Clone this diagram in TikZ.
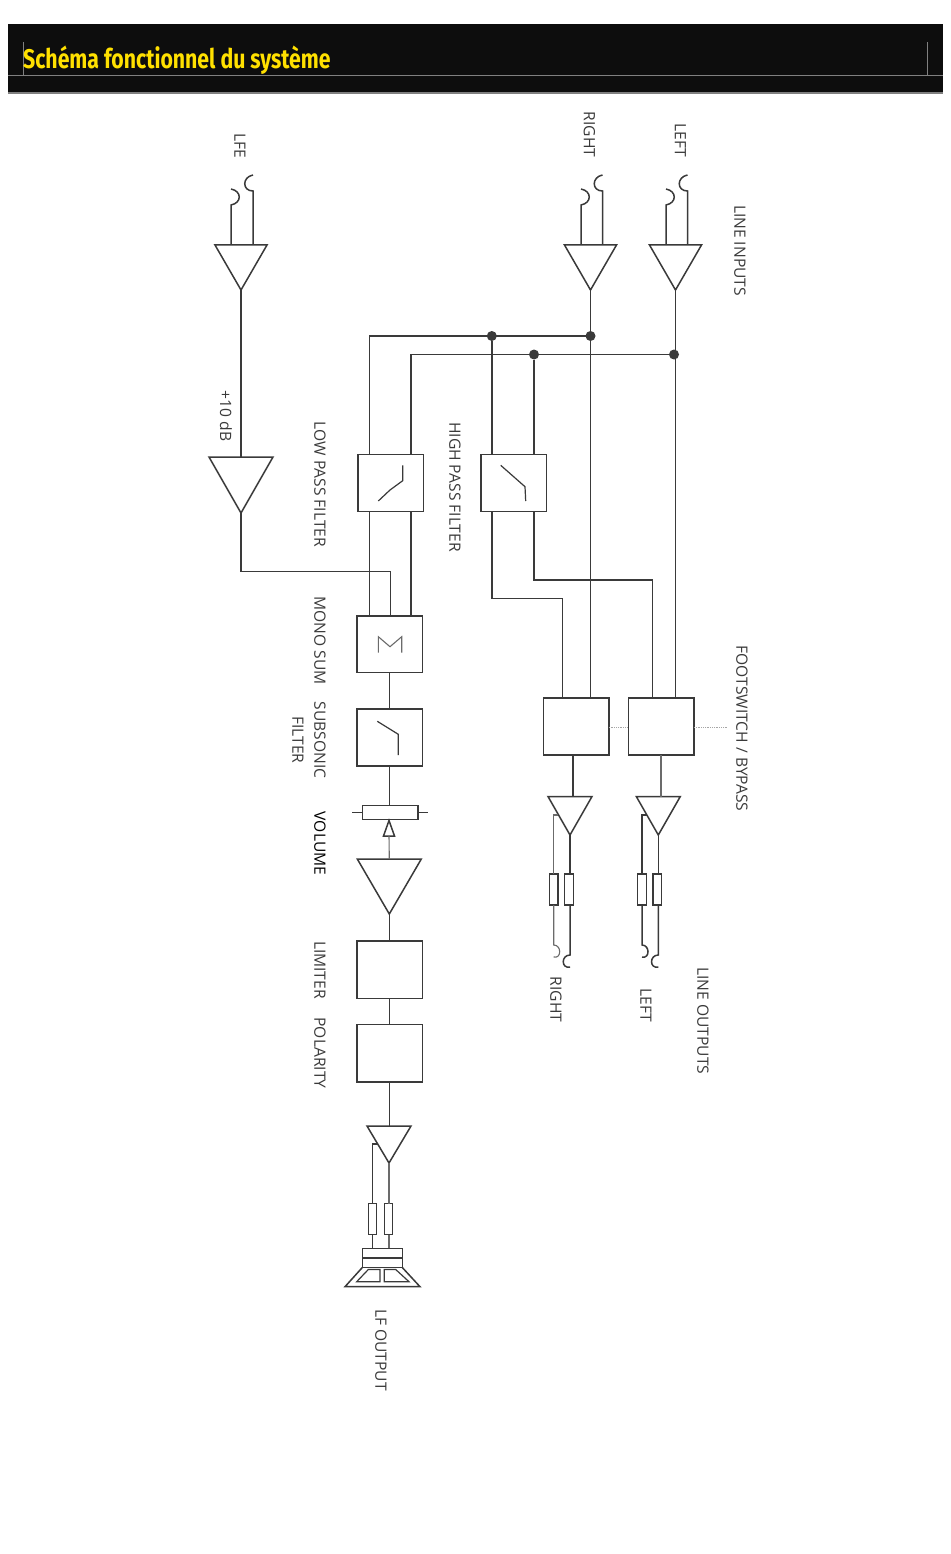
\documentclass[tikz,border=0pt]{standalone}
\usepackage{fontspec}
\setmainfont{Open Sans}
\newfontfamily\titlefont{Fira Sans}
\usetikzlibrary{positioning, shapes.geometric, calc}
\definecolor{ink}{HTML}{3A3A3A}
\definecolor{band}{HTML}{0D0D0D}
\definecolor{titleyellow}{HTML}{FFE000}

\begin{document}
\begin{tikzpicture}[
    x=1pt, y=-1pt,
    wire/.style={draw=ink, line width=1.5pt},
    thinwire/.style={draw=ink!75, line width=1.1pt},
    curve/.style={draw=ink, line width=1.2pt},
    block/.style={rectangle, draw=ink, line width=1.5pt, fill=white, inner sep=0pt, outer sep=0pt, minimum width=65.5pt, minimum height=57pt},
    res/.style={rectangle, draw=ink, line width=1.3pt, fill=white, inner sep=0pt, outer sep=0pt, minimum width=8.5pt, minimum height=31pt},
    amp/.style={isosceles triangle, isosceles triangle stretches, shape border rotate=-90, draw=ink, line width=1.5pt, fill=white, inner sep=0pt, outer sep=0pt, anchor=apex},
    dot/.style={circle, fill=ink, inner sep=0pt, outer sep=0pt, minimum size=10pt},
    lbl/.style={rotate=-90, text=ink, font=\fontsize{15.6}{22}\selectfont, inner sep=0pt, align=center}
]
    \useasboundingbox (0,0) rectangle (950,1554);

    % --- Title band ---
    \fill[band] (8,24) rectangle (943,93);
    \draw[gray, line width=1.5pt] (8,93) -- (943,93);
    \draw[gray, line width=0.5pt] (8,75) -- (943,75);
    \draw[gray, line width=0.5pt] (23,42) -- (23,75);
    \draw[gray, line width=0.5pt] (927,42) -- (927,75);
    \node[anchor=west, inner sep=0pt, text=titleyellow, xscale=0.787, font=\titlefont\bfseries\fontsize{27}{30}\selectfont] (title) at (23,60) {Schéma fonctionnel du système};

    % --- Input amplifiers ---
    \node[amp, minimum width=52pt, minimum height=45pt] (amp_lfe) at (241,290) {};
    \node[amp, minimum width=52pt, minimum height=45pt] (amp_r) at (590.5,290) {};
    \node[amp, minimum width=52pt, minimum height=45pt] (amp_l) at (675.5,290) {};
    \node[amp, minimum width=64pt, minimum height=56pt] (amp_boost) at (241,513) {};

    % --- Input jacks ---
    \coordinate (lfe_a) at (231,205);
    \coordinate (lfe_b) at (253,191);
    \coordinate (r_a) at (581,205);
    \coordinate (r_b) at (602.5,191);
    \coordinate (l_a) at (666,205);
    \coordinate (l_b) at (687.5,191);
    \draw[wire] (amp_lfe.lower side -| lfe_a) -- (lfe_a) .. controls +(11,-2) and +(11,2) .. +(0,-16);
    \draw[wire] (amp_lfe.lower side -| lfe_b) -- (lfe_b) .. controls +(-11,0) and +(-11,2) .. +(0,-16);
    \draw[wire] (amp_r.lower side -| r_a) -- (r_a) .. controls +(11,-2) and +(11,2) .. +(0,-16);
    \draw[wire] (amp_r.lower side -| r_b) -- (r_b) .. controls +(-11,0) and +(-11,2) .. +(0,-16);
    \draw[wire] (amp_l.lower side -| l_a) -- (l_a) .. controls +(11,-2) and +(11,2) .. +(0,-16);
    \draw[wire] (amp_l.lower side -| l_b) -- (l_b) .. controls +(-11,0) and +(-11,2) .. +(0,-16);

    % --- Filters and processing blocks ---
    \node[block] (lpf) at (390.5,483) {};
    \node[block] (hpf) at (513.5,483) {};
    \node[block, minimum height=56.5pt] (mono) at (389.5,644) {};
    \node[block] (subs) at (389.5,737.5) {};
    \node[block, minimum height=57.5pt] (lim) at (389.5,969.5) {};
    \node[block, minimum height=57.5pt] (pol) at (389.5,1053) {};
    \node[block, minimum height=57pt] (foot_r) at (576,726.5) {};
    \node[block, minimum height=57pt] (foot_l) at (661.2,726.5) {};

    % --- Bus lines ---
    \node[dot] (d1) at (491.8,336) {};
    \node[dot] (d2) at (590.5,336) {};
    \node[dot] (d3) at (534,354.5) {};
    \node[dot] (d4) at (674,354.5) {};
    \coordinate (bus_a) at (369.3,336);
    \coordinate (bus_b) at (411,354.5);
    \draw[wire] (amp_lfe.apex) -- (amp_boost.lower side);
    \draw[wire] (amp_r.apex) -- (foot_r.north -| amp_r.apex);
    \draw[wire] (amp_l.apex) -- (foot_l.north -| amp_l.apex);
    \draw[wire] (d2) -- (bus_a) -- (bus_a |- lpf.north);
    \draw[wire] (d4) -- (bus_b) -- (bus_b |- lpf.north);
    \draw[wire] (bus_a |- lpf.south) -- (bus_a |- mono.north);
    \draw[wire] (bus_b |- lpf.south) -- (bus_b |- mono.north);

    % --- Boost to mono sum ---
    \coordinate (boost_in) at (390.7,571.7);
    \draw[wire] (amp_boost.apex) |- (boost_in) -- (boost_in |- mono.north);

    % --- High pass to footswitch ---
    \coordinate (hp_a) at (562.7,598.7);
    \coordinate (hp_b) at (652.5,580);
    \draw[wire] (d1) -- (d1 |- hpf.north);
    \draw[wire] (d3) -- (d3 |- hpf.north);
    \draw[wire] (d1 |- hpf.south) |- (hp_a) -- (hp_a |- foot_r.north);
    \draw[wire] (d3 |- hpf.south) |- (hp_b) -- (hp_b |- foot_l.north);

    % --- Curves in the blocks ---
    \draw[curve] (378.3,501) -- (390,490) -- (402.7,480.7) -- (402.7,465.3);
    \draw[curve] (500.7,465.3) -- (525,486.7) -- (525.7,501);
    \draw[curve] (377.3,721.3) -- (398.3,734.3) -- (398.3,755);
    \draw[thinwire] (378.3,652.7) -- (378.3,636.7) -- (390,646.7) -- (401.7,636.7) -- (401.7,652.7);

    % --- Footswitch link ---
    \coordinate (sw_end) at (727,727.5);
    \draw[gray!70, line width=0.8pt, densely dotted] (foot_r.east |- sw_end) -- (foot_l.west |- sw_end);
    \draw[gray!70, line width=0.8pt, densely dotted] (foot_l.east |- sw_end) -- (sw_end);

    % --- Line output right ---
    \node[amp, minimum width=44pt, minimum height=38.5pt] (out_r) at (570,835) {};
    \node[res] (res_r1) at (553.7,889.5) {};
    \node[res] (res_r2) at (569,889.5) {};
    \coordinate (jr_a) at (553,945);
    \coordinate (jr_b) at (570,955);
    \coordinate (fr) at (573,796.5);
    \draw[wire] (foot_r.south -| fr) -- (fr);
    \draw[thinwire] (558,815) -| (res_r1.north);
    \draw[thinwire] (res_r1.south) -- (res_r1.south |- jr_a) .. controls +(8,0) and +(8,2) .. +(0,12);
    \draw[wire] (out_r.apex) -- (out_r.apex |- res_r2.north);
    \draw[wire] (out_r.apex |- res_r2.south) -- (jr_b) .. controls +(-9,0) and +(-9,2) .. +(0,12);

    % --- Line output left ---
    \node[amp, minimum width=44pt, minimum height=38.5pt] (out_l) at (658.3,835) {};
    \node[res] (res_l1) at (642,889.5) {};
    \node[res] (res_l2) at (657.2,889.5) {};
    \coordinate (fl) at (661,796.5);
    \draw[thinwire] (foot_l.south -| fl) -- (fl);
    \draw[wire] (646.7,815) -| (res_l1.north);
    \draw[wire] (res_l1.south) -- (res_l1.south |- jr_a) .. controls +(8,0) and +(8,2) .. +(0,12);
    \draw[wire] (out_l.apex) -- (out_l.apex |- res_l2.north);
    \draw[wire] (out_l.apex |- res_l2.south) -- (out_l.apex |- jr_b) .. controls +(-9,0) and +(-9,2) .. +(0,12);

    % --- Volume ---
    \node[rectangle, draw=ink, line width=1.5pt, fill=white, inner sep=0pt, outer sep=0pt, minimum width=55.5pt, minimum height=14pt] (pot) at (390,812.3) {};
    \coordinate (pot_a) at (352,812.3);
    \coordinate (pot_b) at (427.7,812.3);
    \draw[wire] (pot_a) -- (pot.west);
    \draw[wire] (pot.east) -- (pot_b);
    \draw[wire] (mono.south) -- (subs.north);
    \draw[wire] (subs.south) -- (subs.south |- pot.north);
    \node[amp, shape border rotate=90, minimum width=11pt, minimum height=15.5pt] (wiper) at (389,820.5) {};
    \node[amp, minimum width=64pt, minimum height=55pt] (amp_vol) at (389.3,914) {};
    \draw[thinwire] (wiper.lower side) -- (amp_vol.lower side);
    \draw[wire] (amp_vol.apex) -- (amp_vol.apex |- lim.north);
    \draw[wire] (lim.south) -- (pol.north);

    % --- LF output ---
    \node[amp, minimum width=44pt, minimum height=37pt] (amp_lf) at (389,1163) {};
    \node[res] (res_a) at (372.5,1219.3) {};
    \node[res] (res_b) at (388.5,1219.3) {};
    \node[rectangle, draw=ink, line width=1.5pt, fill=white, inner sep=0pt, outer sep=0pt, minimum width=40pt, minimum height=19pt] (magnet) at (382.3,1257.8) {};
    \draw[wire] (pol.south) -- (pol.south |- amp_lf.lower side);
    \draw[wire] (377.7,1144) -| (res_a.north);
    \draw[thinwire] (amp_lf.apex) -- (amp_lf.apex |- res_b.north);
    \draw[wire] (res_a.south) -- (res_a.south |- magnet.north);
    \draw[thinwire] (amp_lf.apex |- res_b.south) -- (amp_lf.apex |- magnet.north);
    \draw[draw=ink, line width=2pt] (magnet.west) -- (magnet.east);

    % --- Speaker cone ---
    \draw[wire, line join=miter] (362.3,1267.5) -- (345,1286.7) -- (420,1286.7) -- (402.3,1267.5);
    \draw[curve] (368.3,1269.5) -- (380,1269.5) -- (380,1281.7) -- (356.7,1281.7) -- cycle;
    \draw[curve] (384.3,1269.5) -- (395.7,1269.5) -- (409,1281.7) -- (384.3,1281.7) -- cycle;

    % --- Labels ---
    \node[lbl] (t_lfe) at (240,145.5) {LFE};
    \node[lbl] (t_right) at (589.5,134.5) {RIGHT};
    \node[lbl] (t_left) at (680.5,140.5) {LEFT};
    \node[lbl] (t_inputs) at (740,250.5) {LINE INPUTS};
    \node[lbl] (t_boost) at (226,416) {+10 dB};
    \node[lbl] (t_lp) at (320,484.5) {LOW PASS FILTER};
    \node[lbl] (t_hp) at (455,487) {HIGH PASS FILTER};
    \node[lbl] (t_mono) at (320,640.5) {MONO SUM};
    \node[lbl] (t_subs) at (309,740) {SUBSONIC\\FILTER};
    \node[lbl, text=black] (t_vol) at (320,843.5) {VOLUME};
    \node[lbl] (t_lim) at (320,970) {LIMITER};
    \node[lbl] (t_pol) at (320,1053) {POLARITY};
    \node[lbl] (t_lf) at (381,1350) {LF OUTPUT};
    \node[lbl] (t_foot) at (742,728.5) {FOOTSWITCH / BYPASS};
    \node[lbl] (t_outputs) at (703,1021) {LINE OUTPUTS};
    \node[lbl] (t_outr) at (556,999.5) {RIGHT};
    \node[lbl] (t_outl) at (646,1005) {LEFT};

\end{tikzpicture}
\end{document}
